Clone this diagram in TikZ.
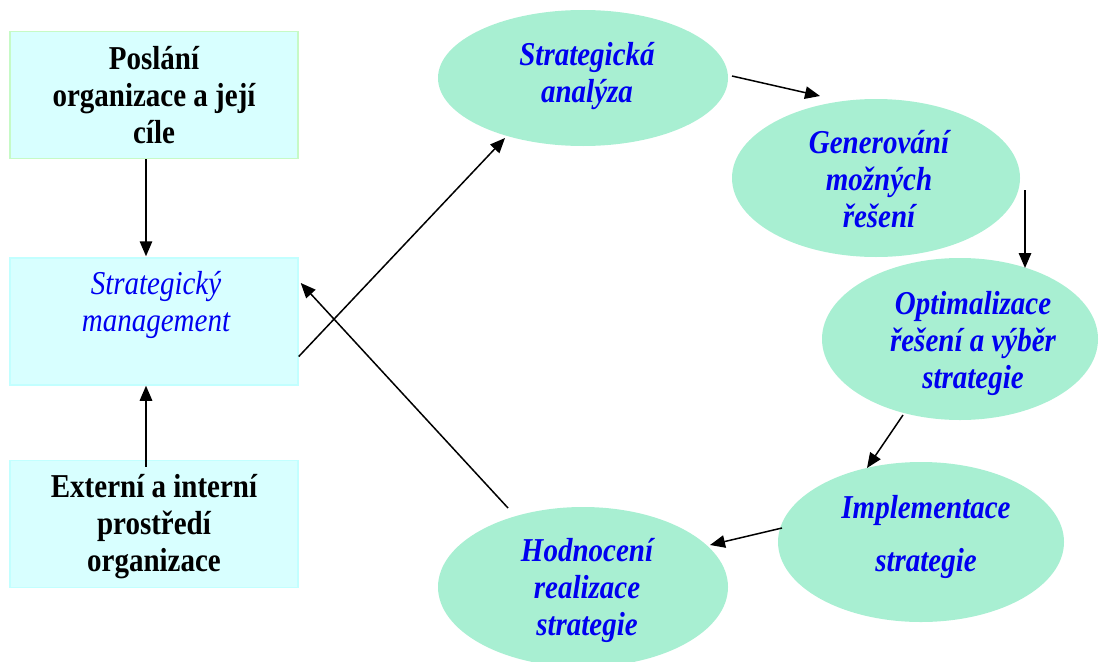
\documentclass[tikz,border=0pt]{standalone}
\usepackage{fontspec}
\setmainfont{Liberation Serif}
\usetikzlibrary{shapes.geometric,calc,arrows.meta}

\definecolor{boxfill}{HTML}{D8FFFF}
\definecolor{boxedge}{HTML}{C2FFFF}
\definecolor{greenedge}{HTML}{C6FAC6}
\definecolor{ovalfill}{HTML}{A8EFD2}
\definecolor{txtblue}{HTML}{0000F0}

% centred lines of text, stretched a little in height
\newcommand{\tallines}[1]{\scalebox{1}[1.15]{\begin{tabular}{@{}c@{}}#1\end{tabular}}}

\begin{document}
\begin{tikzpicture}[x=1pt,y=-1pt,
  box/.style={draw=boxedge,line width=1.5pt,fill=boxfill,
    minimum width=288pt,minimum height=127pt,inner sep=0pt},
  oval/.style={ellipse,fill=ovalfill,inner sep=0pt},
  boxtext/.style={inner sep=0pt,
    font=\fontsize{29}{32}\selectfont\bfseries},
  ovaltext/.style={inner sep=0pt,text=txtblue,
    font=\fontsize{29}{32}\selectfont\bfseries\itshape},
  arr/.style={-{Triangle[length=15pt,width=12.5pt]},line width=1.5pt}]

\useasboundingbox (0,0) rectangle (1099,661);
\clip (0,0) rectangle (1099,661);

% left column: mission, strategic management, environment
\node[box,draw=greenedge] (b1) at (154,95) {};
\node[box] (b2) at (154,321.5) {};
\node[box] (b3) at (154,524) {};

\node[boxtext] (b1t) at (154,99) {\tallines{Poslání\\organizace a její\\cíle}};
\node[ovaltext,font=\fontsize{29}{32}\selectfont\itshape] (b2t) at (156,306)
  {\tallines{Strategický\\management}};
\node[boxtext] (b3t) at (154,527) {\tallines{Externí a interní\\prostředí\\organizace}};

% cycle of strategic process
\node[oval,minimum width=290pt,minimum height=136pt] (e1) at (583,78) {};
\node[oval,minimum width=288pt,minimum height=158pt] (e2) at (876,178) {};
\node[oval,minimum width=276pt,minimum height=162pt] (e3) at (960,339) {};
\node[oval,minimum width=286pt,minimum height=160pt] (e4) at (921,542) {};
\node[oval,minimum width=290pt,minimum height=160pt] (e5) at (583,587) {};

\node[ovaltext] (e1t) at (587,77) {\tallines{Strategická\\analýza}};
\node[ovaltext] (e2t) at (879,183) {\tallines{Generování\\možných\\řešení}};
\node[ovaltext] (e3t) at (973,344) {\tallines{Optimalizace\\řešení a výběr\\strategie}};
\node[ovaltext] (e4t) at (926,538) {\tallines{Implementace\\[14pt]strategie}};
\node[ovaltext] (e5t) at (587,591) {\tallines{Hodnocení\\realizace\\strategie}};

% connectors
\draw[arr] ($(b1.south)+(-8,0)$) -- ($(b2.north)+(-8,-1)$);
\draw[arr] ($(b3.north)+(-8,7)$) -- ($(b2.south)+(-8,0)$);
\draw[arr] ($(b2.east)+(0,35)$) -- ($(e1.center)+(-78,60)$);
\draw[arr] ($(e5.center)+(-75,-79)$) -- ($(b2.east)+(2,-38.5)$);
\draw[arr] ($(e1.center)+(149,-2)$) -- ($(e2.center)+(-56,-82)$);
\draw[arr] ($(e2.center)+(149,12)$) -- ($(e3.center)+(65,-71)$);
\draw[arr] ($(e3.center)+(-57,76)$) -- ($(e4.center)+(-54,-74)$);
\draw[arr] ($(e4.center)+(-139,-14)$) -- ($(e5.center)+(127,-42)$);
\end{tikzpicture}
\end{document}
